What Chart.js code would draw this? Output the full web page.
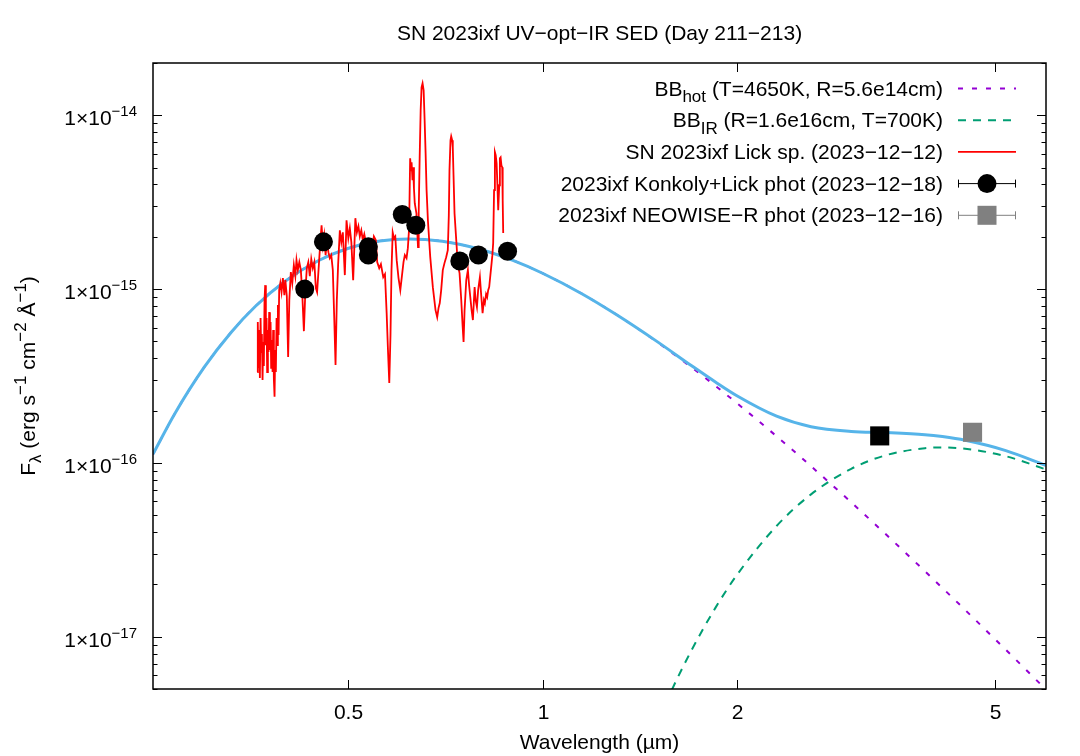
<!DOCTYPE html>
<html>
<head>
<meta charset="utf-8">
<title>SN 2023ixf SED</title>
<script src="https://cdn.jsdelivr.net/npm/chart.js@4.4.1/dist/chart.umd.min.js"></script>
<style>
  html, body { margin: 0; padding: 0; background: #fff; }
  #wrap { width: 1080px; height: 756px; }
</style>
</head>
<body>
<div id="wrap"><canvas id="sed" width="1080" height="756"></canvas></div>
<script>
// axis ranges and tick labels
const xRange = [0.25, 6];
const yRange = [5e-18, 2e-14];
const xTickVals = [0.5, 1, 2, 5];
const xTickLabels = ['0.5', '1', '2', '5'];
const yTickExps = [-14, -15, -16, -17];

// blackbody fits
const bbWave  = [0.25, 0.27, 0.30, 0.33, 0.36, 0.40, 0.45, 0.50, 0.56, 0.62, 0.70, 0.80, 0.90, 1.0, 1.15, 1.3, 1.5, 1.7, 1.85, 2.0, 2.3, 2.6, 3.0, 3.4, 3.9, 4.15, 4.5, 5.2, 6.0];
const bbHot   = [1.12e-16, 1.91e-16, 3.55e-16, 5.63e-16, 7.97e-16, 1.11e-15, 1.456e-15, 1.713e-15, 1.889e-15, 1.945e-15, 1.884e-15, 1.695e-15, 1.462e-15, 1.234e-15, 9.41e-16, 7.14e-16, 4.99e-16, 3.54e-16, 2.774e-16, 2.198e-16, 1.423e-16, 9.57e-17, 5.93e-17, 3.855e-17, 2.38e-17, 1.907e-17, 1.425e-17, 8.41e-18, 4.96e-18];
const bbTotal = [1.123e-16, 1.912e-16, 3.552e-16, 5.63e-16, 7.97e-16, 1.11e-15, 1.456e-15, 1.713e-15, 1.889e-15, 1.945e-15, 1.884e-15, 1.695e-15, 1.462e-15, 1.234e-15, 9.41e-16, 7.14e-16, 5.02e-16, 3.62e-16, 2.92e-16, 2.426e-16, 1.857e-16, 1.616e-16, 1.518e-16, 1.495e-16, 1.454e-16, 1.417e-16, 1.349e-16, 1.177e-16, 9.67e-17];
const irWave  = [1.55, 1.6, 1.7, 1.85, 2.0, 2.3, 2.6, 3.0, 3.4, 3.9, 4.15, 4.5, 5.2, 6.0];
const bbIR    = [4.13e-18, 5.34e-18, 8.38e-18, 1.465e-17, 2.282e-17, 4.336e-17, 6.59e-17, 9.25e-17, 1.109e-16, 1.2155e-16, 1.226e-16, 1.2064e-16, 1.0928e-16, 9.174e-17];

// Lick spectrum, wavelength in micron, flux in units of 1e-15
const specWave = [
  0.3623, 0.3630, 0.3639, 0.3647, 0.3657, 0.3666, 0.3674, 0.3683, 0.3692, 0.3700,
  0.3709, 0.3718, 0.3727, 0.3736, 0.3745, 0.3753, 0.3763, 0.3772, 0.3780, 0.3790,
  0.3799, 0.3807, 0.3817, 0.3826, 0.3834, 0.3844, 0.3853, 0.3862, 0.3871, 0.3881,
  0.3889, 0.3899, 0.3909, 0.3917, 0.3933, 0.3950, 0.3969, 0.3990, 0.4004, 0.4025,
  0.4044, 0.4061, 0.4083, 0.4104, 0.4127, 0.4149, 0.4166, 0.4186, 0.4208, 0.4231,
  0.4250, 0.4277, 0.4299, 0.4322, 0.4345, 0.4368, 0.4391, 0.4415, 0.4439, 0.4463,
  0.4483, 0.4511, 0.4535, 0.4555, 0.4576, 0.4598, 0.4621, 0.4642, 0.4667, 0.4690,
  0.4715, 0.4741, 0.4766, 0.4787, 0.4809, 0.4831, 0.4861, 0.4887, 0.4913, 0.4948,
  0.4978, 0.5010, 0.5037, 0.5064, 0.5097, 0.5137, 0.5165, 0.5193, 0.5219, 0.5247,
  0.5275, 0.5303, 0.5332, 0.5370, 0.5409, 0.5448, 0.5487, 0.5526, 0.5552, 0.5592,
  0.5626, 0.5673, 0.5708, 0.5742, 0.5769, 0.5796, 0.5821, 0.5842, 0.5867, 0.5894,
  0.5921, 0.5951, 0.5990, 0.6028, 0.6065, 0.6097, 0.6126, 0.6163, 0.6192, 0.6220,
  0.6243, 0.6262, 0.6275, 0.6295, 0.6308, 0.6328, 0.6346, 0.6384, 0.6420, 0.6436,
  0.6458, 0.6481, 0.6502, 0.6525, 0.6550, 0.6573, 0.6596, 0.6619, 0.6650, 0.6706,
  0.6768, 0.6833, 0.6874, 0.6906, 0.6937, 0.6972, 0.7012, 0.7054, 0.7097, 0.7138,
  0.7164, 0.7181, 0.7207, 0.7225, 0.7251, 0.7266, 0.7285, 0.7311, 0.7356, 0.7398,
  0.7443, 0.7488, 0.7523, 0.7550, 0.7577, 0.7623, 0.7667, 0.7700, 0.7733, 0.7769,
  0.7805, 0.7853, 0.7881, 0.7918, 0.7952, 0.8002, 0.8039, 0.8079, 0.8117, 0.8145,
  0.8180, 0.8212, 0.8241, 0.8271, 0.8306, 0.8342, 0.8365, 0.8389, 0.8416, 0.8441,
  0.8465, 0.8492, 0.8517, 0.8541, 0.8572, 0.8592, 0.8614, 0.8639, 0.8663, 0.8678,
  0.8694
];
const specFlux = [
  0.333, 0.647, 0.352, 0.581, 0.308, 0.681, 0.434, 0.551, 0.300, 0.496,
  0.361, 0.865, 1.054, 0.476, 0.681, 0.333, 0.581, 0.434, 0.737, 0.446,
  0.647, 0.352, 0.509, 0.333, 0.581, 0.300, 0.240, 0.446, 0.333, 0.681,
  0.476, 0.810, 0.544, 0.987, 1.082, 0.961, 1.157, 0.924, 1.126, 0.912,
  0.407, 0.865, 1.252, 1.082, 1.374, 1.188, 1.468, 1.286, 1.430, 1.286,
  0.987, 0.573, 0.961, 1.320, 1.430, 1.188, 1.487, 1.320, 1.430, 1.013,
  0.961, 1.374, 1.863, 2.33, 1.791, 2.04, 1.568, 1.913, 1.631, 1.507,
  1.568, 1.286, 0.664, 0.366, 0.865, 1.374, 2.18, 1.863, 2.12, 1.204,
  2.49, 1.961, 2.24, 1.863, 1.126, 2.56, 2.12, 2.30, 2.01, 2.18,
  1.913, 2.07, 1.863, 1.675, 1.814, 1.675, 2.01, 1.913, 1.430, 1.320,
  1.392, 1.172, 1.220, 0.728, 0.446, 0.288, 0.544, 1.286, 2.12, 1.961,
  2.01, 1.468, 1.157, 0.987, 1.204, 1.430, 1.568, 1.507, 1.721, 2.24,
  5.66, 4.83, 5.37, 4.23, 5.02, 3.80, 3.12, 2.73, 1.744, 2.77,
  5.73, 10.68, 14.49, 15.27, 13.92, 9.36, 6.05, 3.71, 2.49, 1.527,
  1.026, 0.757, 0.690, 0.778, 0.831, 0.987, 1.286, 1.411, 1.527, 1.675,
  2.66, 4.83, 7.18, 7.57, 7.18, 6.54, 4.52, 2.73, 1.913, 1.374,
  1.236, 0.865, 0.621, 0.496, 0.757, 1.126, 1.286, 1.054, 0.900, 0.757,
  0.664, 1.026, 0.865, 0.788, 0.987, 1.172, 0.924, 0.728, 0.865, 0.831,
  0.936, 0.900, 0.987, 1.026, 1.204, 1.411, 1.568, 1.839, 3.71, 6.13,
  5.89, 5.30, 3.96, 2.84, 3.96, 5.66, 5.73, 5.16, 5.02, 3.25,
  2.10
];

// photometry
const photWave = [0.429, 0.4585, 0.538, 0.538, 0.607, 0.637, 0.745, 0.796, 0.883];
const photFlux = [1.0e-15, 1.87e-15, 1.75e-15, 1.57e-15, 2.69e-15, 2.33e-15, 1.45e-15, 1.57e-15, 1.65e-15];
const w1Wave = [3.32];
const w1Flux = [1.43e-16];
const w2Wave = [4.62];
const w2Flux = [1.50e-16];

const pts = (xs, ys, k) => xs.map((v, i) => ({x: v, y: ys[i] * (k || 1)}));

const FONT = '"Liberation Sans", Arial, Helvetica, sans-serif';
const FS = 21;

function partFont(p, size) {
  const s = p.sup ? (p.scale || 0.8) : (p.sub ? 0.8 : 1);
  return Math.round(size * s) + 'px ' + FONT;
}
function richWidth(ctx, parts, size) {
  let w = 0;
  parts.forEach(p => { ctx.font = partFont(p, size); w += ctx.measureText(p.t).width; });
  return w;
}
// draws text with sub/superscripts, y is the baseline
function drawRich(ctx, parts, x, y, size, align) {
  const w = richWidth(ctx, parts, size);
  let cx = align === 'right' ? x - w : (align === 'center' ? x - w / 2 : x);
  ctx.textAlign = 'left';
  ctx.textBaseline = 'alphabetic';
  parts.forEach(p => {
    ctx.font = partFont(p, size);
    const dy = p.sub ? size * 0.3 : (p.sup ? -size * 0.42 : 0);
    ctx.fillText(p.t, cx, y + dy);
    cx += ctx.measureText(p.t).width;
  });
}
function seg(ctx, x1, y1, x2, y2) {
  ctx.beginPath(); ctx.moveTo(x1, y1); ctx.lineTo(x2, y2); ctx.stroke();
}

const legendRows = [
  {parts: [{t: 'BB'}, {t: 'hot', sub: true}, {t: ' (T=4650K, R=5.6e14cm)'}], kind: 'dash', color: '#9400d3', dash: [5, 9]},
  {parts: [{t: 'BB'}, {t: 'IR', sub: true}, {t: ' (R=1.6e16cm, T=700K)'}], kind: 'dash', color: '#009e73', dash: [8, 7]},
  {parts: [{t: 'SN 2023ixf Lick sp. (2023\u221212\u221212)'}], kind: 'line', color: '#ff0000'},
  {parts: [{t: '2023ixf Konkoly+Lick phot (2023\u221212\u221218)'}], kind: 'circle', color: '#000000'},
  {parts: [{t: '2023ixf NEOWISE\u2212R phot (2023\u221212\u221216)'}], kind: 'square', color: '#808080'}
];

const gnuFrame = {
  id: 'gnuFrame',
  afterDraw(chart) {
    const {ctx, chartArea: a, scales: {x, y}} = chart;
    ctx.save();
    ctx.fillStyle = '#000';
    ctx.strokeStyle = '#000';

    // ticks, mirrored on all four sides
    ctx.lineWidth = 1;
    xTickVals.forEach((v, i) => {
      const px = Math.round(x.getPixelForValue(v)) + 0.5;
      seg(ctx, px, a.bottom, px, a.bottom - 9);
      seg(ctx, px, a.top, px, a.top + 9);
      ctx.font = FS + 'px ' + FONT;
      ctx.textAlign = 'center';
      ctx.textBaseline = 'alphabetic';
      ctx.fillText(xTickLabels[i], px, a.bottom + 30);
    });
    for (let e = -18; e <= -14; e++) {
      for (let m = 1; m <= 9; m++) {
        const v = m * Math.pow(10, e);
        if (v < yRange[0] * 0.999 || v > yRange[1] * 1.001) continue;
        const py = Math.round(y.getPixelForValue(v)) + 0.5;
        const len = m === 1 ? 9 : 4.5;
        seg(ctx, a.left, py, a.left + len, py);
        seg(ctx, a.right, py, a.right - len, py);
      }
    }
    yTickExps.forEach(e => {
      const py = y.getPixelForValue(Math.pow(10, e));
      drawRich(ctx, [{t: '1\u00d710'}, {t: '\u2212' + (-e), sup: true, scale: 0.72}], 137, py + 10, FS, 'right');
    });

    // border
    ctx.lineWidth = 1.5;
    ctx.strokeRect(a.left, a.top, a.right - a.left, a.bottom - a.top);

    // titles
    ctx.font = FS + 'px ' + FONT;
    ctx.textAlign = 'center';
    ctx.textBaseline = 'alphabetic';
    const cxm = (a.left + a.right) / 2;
    ctx.fillText('SN 2023ixf UV\u2212opt\u2212IR SED (Day 211\u2212213)', cxm, 40);
    ctx.fillText('Wavelength (\u00b5m)', cxm, 749);

    ctx.save();
    ctx.translate(35, (a.top + a.bottom) / 2);
    ctx.rotate(-Math.PI / 2);
    drawRich(ctx, [{t: 'F'}, {t: '\u03bb', sub: true}, {t: ' (erg s'}, {t: '\u22121', sup: true},
      {t: ' cm'}, {t: '\u22122', sup: true}, {t: ' \u00c5'}, {t: '\u22121', sup: true}, {t: ')'}], 0, 0, FS, 'center');
    ctx.restore();

    // key
    legendRows.forEach((r, i) => {
      const ry = 88.5 + i * 31.7;
      ctx.fillStyle = '#000';
      drawRich(ctx, r.parts, 943, ry + 7, FS, 'right');
      const x1 = 958, x2 = 1016, xm = (x1 + x2) / 2;
      ctx.strokeStyle = r.color;
      ctx.fillStyle = r.color;
      ctx.lineWidth = r.kind === 'line' ? 1.8 : (r.kind === 'dash' ? 2 : 1);
      ctx.setLineDash(r.dash || []);
      seg(ctx, x1, ry, x2, ry);
      ctx.setLineDash([]);
      if (r.kind === 'circle' || r.kind === 'square') {
        seg(ctx, x1 + 0.5, ry - 4, x1 + 0.5, ry + 4);
        seg(ctx, x2 - 0.5, ry - 4, x2 - 0.5, ry + 4);
        if (r.kind === 'circle') {
          ctx.beginPath(); ctx.arc(xm, ry, 9.5, 0, Math.PI * 2); ctx.fill();
        } else {
          ctx.fillRect(xm - 9.5, ry - 9.5, 19, 19);
        }
      }
    });
    ctx.restore();
  }
};

new Chart(document.getElementById('sed'), {
  type: 'scatter',
  data: {
    datasets: [
      {
        label: 'Konkoly+Lick phot',
        data: pts(photWave, photFlux),
        pointStyle: 'circle', pointRadius: 9.5, pointBorderWidth: 0,
        backgroundColor: '#000', borderColor: '#000', order: 0
      },
      {
        label: 'NEOWISE W1',
        data: pts(w1Wave, w1Flux),
        pointStyle: 'rect', pointRadius: 13.5, pointBorderWidth: 0,
        backgroundColor: '#000', borderColor: '#000', order: 1
      },
      {
        label: 'NEOWISE W2',
        data: pts(w2Wave, w2Flux),
        pointStyle: 'rect', pointRadius: 13.5, pointBorderWidth: 0,
        backgroundColor: '#808080', borderColor: '#808080', order: 1
      },
      {
        label: 'Lick sp.',
        data: pts(specWave, specFlux, 1e-15),
        showLine: true, pointRadius: 0, borderWidth: 1.8,
        borderColor: '#ff0000', tension: 0, order: 2
      },
      {
        label: 'BB total',
        data: pts(bbWave, bbTotal),
        showLine: true, pointRadius: 0, borderWidth: 3,
        borderColor: '#56b4e9', cubicInterpolationMode: 'monotone', order: 3
      },
      {
        label: 'BB IR',
        data: pts(irWave, bbIR),
        showLine: true, pointRadius: 0, borderWidth: 2, borderDash: [8, 7],
        borderColor: '#009e73', cubicInterpolationMode: 'monotone', order: 4
      },
      {
        label: 'BB hot',
        data: pts(bbWave, bbHot),
        showLine: true, pointRadius: 0, borderWidth: 2, borderDash: [5, 9],
        borderColor: '#9400d3', cubicInterpolationMode: 'monotone', order: 5
      }
    ]
  },
  options: {
    responsive: false,
    devicePixelRatio: 1,
    animation: false,
    events: [],
    layout: { padding: { left: 153, right: 34, top: 63, bottom: 67 } },
    plugins: { legend: { display: false }, tooltip: { enabled: false }, title: { display: false } },
    scales: {
      x: { type: 'logarithmic', min: xRange[0], max: xRange[1], bounds: 'data', display: false },
      y: { type: 'logarithmic', min: yRange[0], max: yRange[1], bounds: 'data', display: false }
    }
  },
  plugins: [gnuFrame]
});
</script>
</body>
</html>
